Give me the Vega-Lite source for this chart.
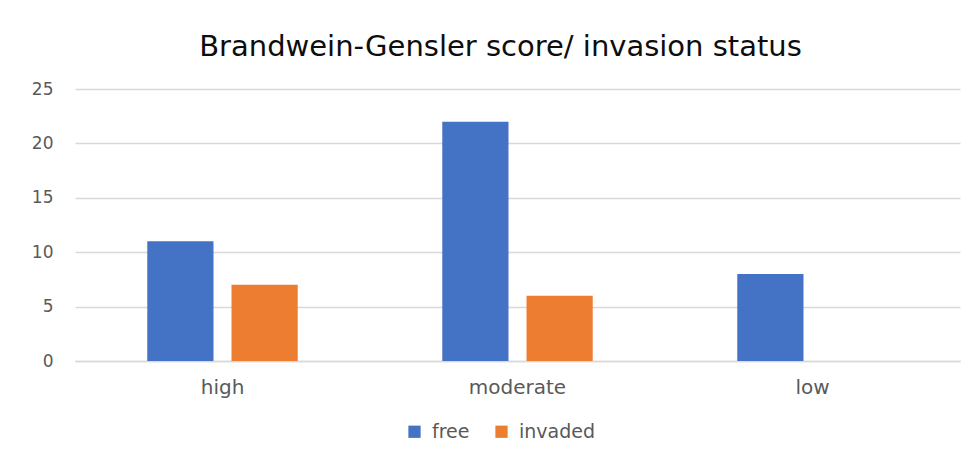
{
  "$schema": "https://vega.github.io/schema/vega-lite/v6.json",
  "autosize": "none",
  "width": 885,
  "height": 272,
  "padding": {"left": 75, "top": 89, "right": 16, "bottom": 96},
  "background": "white",
  "title": {
    "text": "Brandwein-Gensler score/ invasion status",
    "font": "DejaVu Sans",
    "fontSize": 29,
    "fontWeight": "normal",
    "color": "#0d0d0d",
    "anchor": "middle",
    "dx": -17,
    "offset": 18
  },
  "data": {
    "values": [
      {"category": "high", "status": "free", "count": 11},
      {"category": "high", "status": "invaded", "count": 7},
      {"category": "moderate", "status": "free", "count": 22},
      {"category": "moderate", "status": "invaded", "count": 6},
      {"category": "low", "status": "free", "count": 8},
      {"category": "low", "status": "invaded", "count": 0}
    ]
  },
  "mark": {"type": "bar"},
  "encoding": {
    "x": {
      "field": "category",
      "type": "nominal",
      "sort": ["high", "moderate", "low"],
      "scale": {"paddingInner": 0.49, "paddingOuter": 0.245},
      "axis": {
        "title": null,
        "labelAngle": 0,
        "ticks": false,
        "domainColor": "#d9d9d9",
        "domainWidth": 1.5,
        "labelFont": "DejaVu Sans",
        "labelFontSize": 20,
        "labelColor": "#595959",
        "labelPadding": 16
      }
    },
    "xOffset": {
      "field": "status",
      "type": "nominal",
      "sort": ["free", "invaded"],
      "scale": {"paddingInner": 0.214, "paddingOuter": 0}
    },
    "y": {
      "field": "count",
      "type": "quantitative",
      "scale": {"domain": [0, 25], "nice": false},
      "axis": {
        "title": null,
        "values": [0, 5, 10, 15, 20, 25],
        "domain": false,
        "ticks": false,
        "gridColor": "#d9d9d9",
        "gridWidth": 1.5,
        "labelFont": "DejaVu Sans",
        "labelFontSize": 17,
        "labelColor": "#595959",
        "labelPadding": 22
      }
    },
    "color": {
      "field": "status",
      "type": "nominal",
      "sort": ["free", "invaded"],
      "scale": {"domain": ["free", "invaded"], "range": ["#4472c4", "#ed7d31"]},
      "legend": {
        "title": null,
        "orient": "none",
        "legendX": 330,
        "legendY": 333,
        "direction": "horizontal",
        "symbolType": "square",
        "symbolSize": 150,
        "symbolStrokeWidth": 0,
        "symbolOpacity": 1,
        "labelFont": "DejaVu Sans",
        "labelFontSize": 19,
        "labelColor": "#595959",
        "labelOffset": 8,
        "columnPadding": 22
      }
    }
  },
  "config": {
    "view": {"stroke": null}
  }
}
